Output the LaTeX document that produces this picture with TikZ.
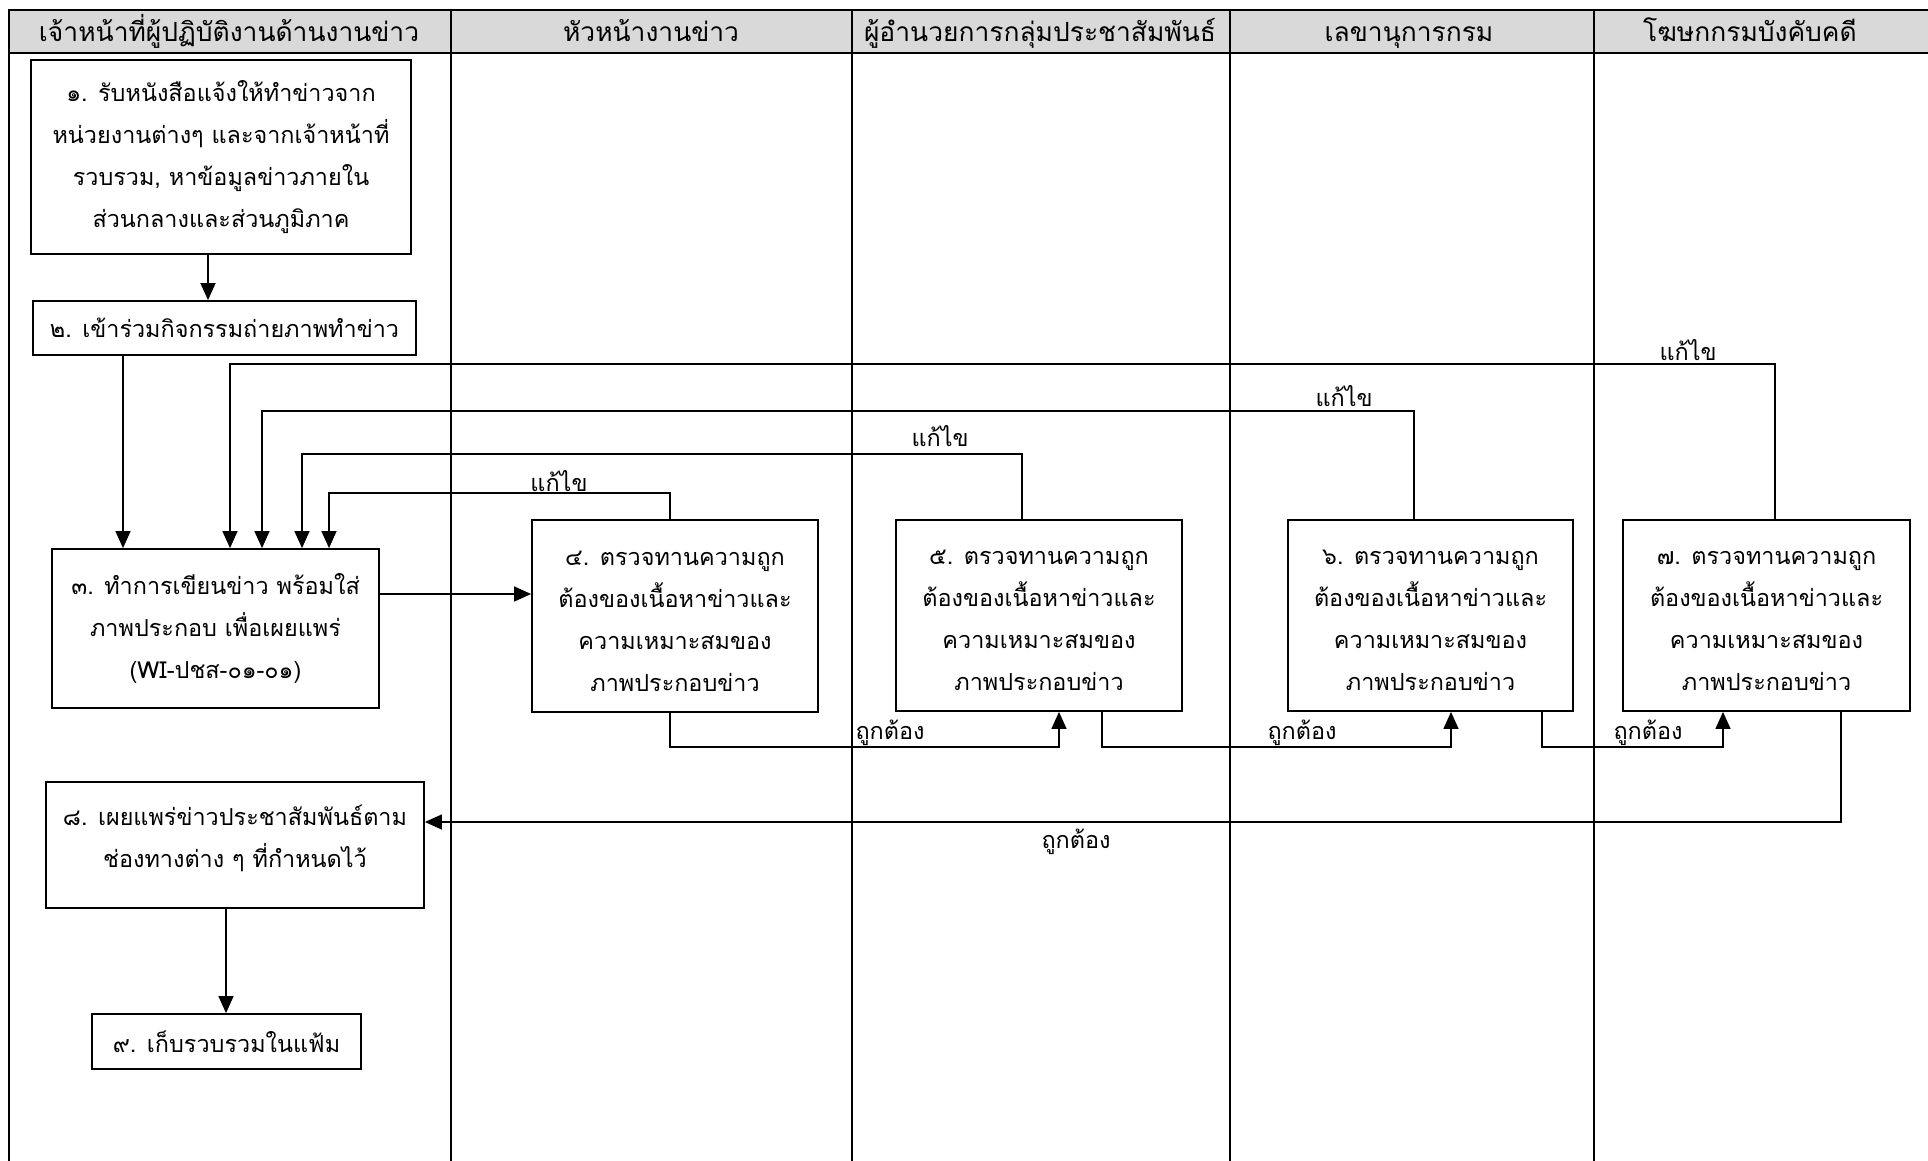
\documentclass[tikz,border=0pt]{standalone}
\usepackage{fontspec}
\newfontfamily\thai[Script=Thai]{Loma}
\usetikzlibrary{arrows.meta,calc}
\definecolor{hdrgray}{RGB}{217,217,217}
\newcommand{\topstrut}{\rule{0pt}{12.5pt}}
\tikzset{
  box/.style={draw, line width=0.9pt, fill=white, align=center, inner sep=0pt,
    font=\thai\fontsize{11.7}{21}\selectfont},
  hdrtext/.style={font=\thai\fontsize{13.2}{15}\selectfont, inner sep=0pt, anchor=base},
  lbl/.style={font=\thai\fontsize{11.7}{15}\selectfont, inner sep=0pt},
  conn/.style={line width=0.7pt},
  arr/.style={line width=0.7pt, -{Triangle[length=8.5pt,width=7.5pt]}},
}
\begin{document}
\begin{tikzpicture}[x=0.5pt,y=-0.5pt]
\useasboundingbox (0,0) rectangle (1928,1161);
% header band and frame
\fill[hdrgray] (9,10) rectangle (1928,53);
\draw[line width=1.4pt] (9,1161) -- (9,10) -- (1928,10);
\draw[line width=1.4pt] (9,53) -- (1928,53);
\foreach \x/\w in {451/1.1pt,852/1.1pt,1230/0.8pt,1594/0.8pt}
  \draw[line width=\w] (\x,10) -- (\x,1161);
% header texts
\node[hdrtext] (h1) at (229,42) {เจ้าหน้าที่ผู้ปฏิบัติงานด้านงานข่าว};
\node[hdrtext] (h2) at (651,42) {หัวหน้างานข่าว};
\node[hdrtext] (h3) at (1040,42) {ผู้อำนวยการกลุ่มประชาสัมพันธ์};
\node[hdrtext] (h4) at (1409,42) {เลขานุการกรม};
\node[hdrtext] (h5) at (1750,42) {โฆษกกรมบังคับคดี};
% boxes
\node[box, minimum width=190pt, minimum height=97pt] (b1) at (221,157)
  {๑. รับหนังสือแจ้งให้ทำข่าวจาก\\หน่วยงานต่างๆ และจากเจ้าหน้าที่\\รวบรวม, หาข้อมูลข่าวภายใน\\ส่วนกลางและส่วนภูมิภาค};
\node[box, minimum width=191.5pt, minimum height=27pt] (b2) at (224.5,328)
  {๒. เข้าร่วมกิจกรรมถ่ายภาพทำข่าว};
\node[box, minimum width=163.5pt, minimum height=79.5pt] (b3) at (215.5,628.5)
  {๓. ทำการเขียนข่าว พร้อมใส่\\ภาพประกอบ เพื่อเผยแพร่\\(WI-ปชส-๐๑-๐๑)};
\node[box, minimum width=143pt, minimum height=96pt] (b4) at (675,616)
  {\topstrut๔. ตรวจทานความถูก\\ต้องของเนื้อหาข่าวและ\\ความเหมาะสมของ\\ภาพประกอบข่าว};
\node[box, minimum width=143pt, minimum height=95.5pt] (b5) at (1039,615.5)
  {\topstrut๕. ตรวจทานความถูก\\ต้องของเนื้อหาข่าวและ\\ความเหมาะสมของ\\ภาพประกอบข่าว};
\node[box, minimum width=142.5pt, minimum height=95.5pt] (b6) at (1430.5,615.5)
  {\topstrut๖. ตรวจทานความถูก\\ต้องของเนื้อหาข่าวและ\\ความเหมาะสมของ\\ภาพประกอบข่าว};
\node[box, minimum width=143.5pt, minimum height=95.5pt] (b7) at (1766.5,615.5)
  {\topstrut๗. ตรวจทานความถูก\\ต้องของเนื้อหาข่าวและ\\ความเหมาะสมของ\\ภาพประกอบข่าว};
\node[box, minimum width=189pt, minimum height=63pt] (b8) at (235,845)
  {๘. เผยแพร่ข่าวประชาสัมพันธ์ตาม\\ช่องทางต่าง ๆ ที่กำหนดไว้\\[-12pt]\mbox{}};
\node[box, minimum width=134.5pt, minimum height=27.5pt] (b9) at (226.5,1041.5)
  {๙. เก็บรวบรวมในแฟ้ม};
% main flow
\coordinate (c12) at (208,0);
\coordinate (c23) at (123,0);
\coordinate (c34) at (0,594);
\coordinate (c89) at (226,0);
\draw[arr] (b1.south -| c12) -- (b2.north -| c12);
\draw[arr] (b2.south -| c23) -- (b3.north -| c23);
\draw[arr] (b3.east |- c34) -- (b4.west |- c34);
\draw[arr] (b8.south -| c89) -- (b9.north -| c89);
% feedback
\coordinate (k4) at (670,493);  \coordinate (e4) at (329,493);
\coordinate (k5) at (1022,454); \coordinate (e5) at (302,454);
\coordinate (k6) at (1414,411); \coordinate (e6) at (262,411);
\coordinate (k7) at (1775,364); \coordinate (e7) at (230,364);
\draw[arr] (b4.north -| k4) -- (k4) -- (e4) -- (e4 |- b3.north);
\draw[arr] (b5.north -| k5) -- (k5) -- (e5) -- (e5 |- b3.north);
\draw[arr] (b6.north -| k6) -- (k6) -- (e6) -- (e6 |- b3.north);
\draw[arr] (b7.north -| k7) -- (k7) -- (e7) -- (e7 |- b3.north);
\node[lbl] (l4) at (559,481) {แก้ไข};
\node[lbl] (l5) at (940,436) {แก้ไข};
\node[lbl] (l6) at (1344,396) {แก้ไข};
\node[lbl] (l7) at (1688,350) {แก้ไข};
% approvals
\coordinate (g4) at (670,747);  \coordinate (g5) at (1059,747);
\coordinate (g5b) at (1102,747); \coordinate (g6) at (1451,747);
\coordinate (g6b) at (1542,747); \coordinate (g7) at (1723,747);
\coordinate (g7b) at (1841,822); \coordinate (g8) at (0,822);
\draw[arr] (b4.south -| g4) -- (g4) -- (g5) -- (g5 |- b5.south);
\draw[arr] (b5.south -| g5b) -- (g5b) -- (g6) -- (g6 |- b6.south);
\draw[arr] (b6.south -| g6b) -- (g6b) -- (g7) -- (g7 |- b7.south);
\draw[arr] (b7.south -| g7b) -- (g7b) -- (b8.east |- g8);
\node[lbl] (o4) at (890,733) {ถูกต้อง};
\node[lbl] (o5) at (1302,733) {ถูกต้อง};
\node[lbl] (o6) at (1648,733) {ถูกต้อง};
\node[lbl] (o7) at (1076,842) {ถูกต้อง};
\end{tikzpicture}
\end{document}
